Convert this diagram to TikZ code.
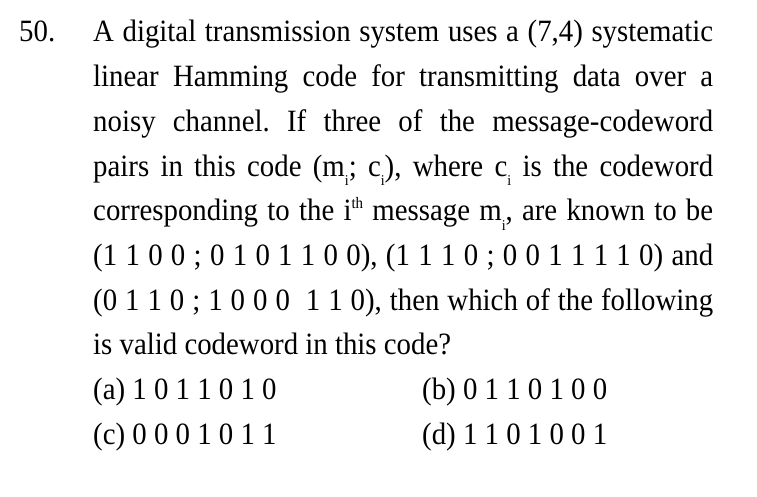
\documentclass[tikz,border=0pt]{standalone}
\usepackage{fontspec}
\setmainfont[FakeStretch=0.93]{Liberation Serif}
\frenchspacing
\newcommand{\sub}[1]{\raisebox{-0.3em}{\fontsize{15}{15}\selectfont #1}}
\newcommand{\sups}[1]{\raisebox{0.4em}{\fontsize{16}{16}\selectfont #1}}
\newcommand{\just}[1]{\makebox[620pt][s]{#1}}
\tikzset{txt/.style={anchor=base west, inner sep=0pt, font=\fontsize{31}{36}\selectfont}}
\begin{document}
\begin{tikzpicture}[x=1pt,y=1pt]
\fill[white] (0,0) rectangle (757,-497);
\useasboundingbox (0,0) rectangle (757,-497);
\node[txt] (num) at (19,-42) {50.};
\node[txt] (l1) at (93,-42) {\just{A digital transmission system uses a (7,4) systematic}};
\node[txt] (l2) at (93,-86.7) {\just{linear Hamming code for transmitting data over a}};
\node[txt] (l3) at (93,-131.4) {\just{noisy channel. If three of the message-codeword}};
\node[txt] (l4) at (93,-176.1) {\just{pairs in this code (m\sub{i}; c\sub{i}), where c\sub{i} is the codeword}};
\node[txt] (l5) at (93,-220.8) {\just{corresponding to the i\sups{th} message m\sub{i}, are known to be}};
\node[txt] (l6) at (93,-265.5) {\just{(1 1 0 0 ; 0 1 0 1 1 0 0), (1 1 1 0 ; 0 0 1 1 1 1 0) and}};
\node[txt] (l7) at (93,-310.2) {\just{(0 1 1 0 ; 1 0 0 0~ 1 1 0), then which of the following}};
\node[txt] (l8) at (93,-354.9) {is valid codeword in this code?};
% answer options
\node[txt] (oa) at (93,-399.6) {(a) 1 0 1 1 0 1 0};
\node[txt] (ob) at (422,-399.6) {(b) 0 1 1 0 1 0 0};
\node[txt] (oc) at (93,-444.3) {(c) 0 0 0 1 0 1 1};
\node[txt] (od) at (422,-444.3) {(d) 1 1 0 1 0 0 1};
\end{tikzpicture}
\end{document}
